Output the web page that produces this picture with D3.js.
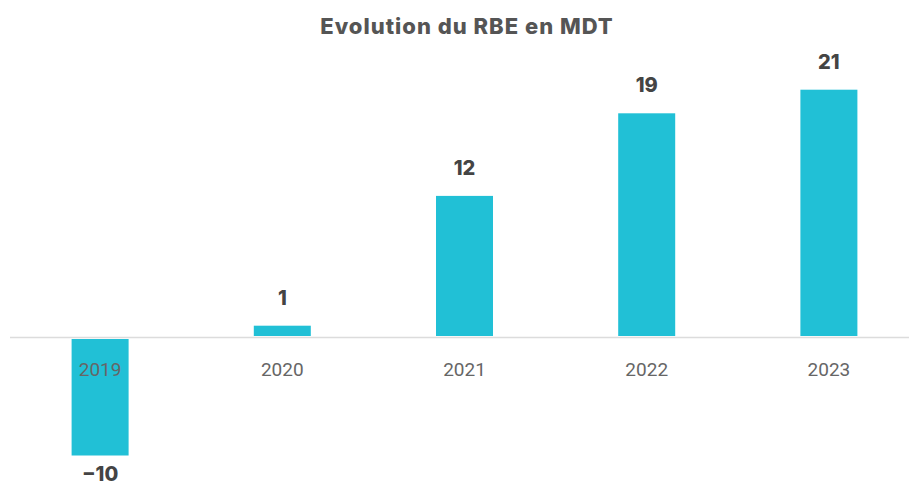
<!DOCTYPE html>
<html>
<head>
<meta charset="utf-8">
<script src="https://cdn.jsdelivr.net/npm/d3@7"></script>
<style>
  html, body { margin: 0; padding: 0; background: #fff; }
  svg { display: block; }
</style>
</head>
<body>
<svg id="chart" width="909" height="484"></svg>
<script>
// RBE per year, in millions of dinars
const years = ["2019", "2020", "2021", "2022", "2023"];
const rbe = [-10, 1, 12, 19, 21];
const chartTitle = "Evolution du RBE en MDT";

const W = 909, H = 484;
const svg = d3.select("#chart");

const x = d3.scaleBand().domain(years).range([9, 920]).padding(0);
const barW = 57;

const y = d3.scaleLinear().domain([-10, 21]).range([455.5, 89.7]);

const boldFont = "Inter, 'Open Sans', sans-serif";

// title
svg.append("text")
  .attr("x", 467)
  .attr("y", 34)
  .attr("text-anchor", "middle")
  .attr("font-family", "Inter, sans-serif")
  .attr("font-weight", 800)
  .attr("font-size", 22)
  .attr("letter-spacing", 1)
  .attr("fill", "#555")
  .text(chartTitle);

const data = years.map((yr, i) => ({ year: yr, value: rbe[i] }));

// bars
svg.append("g").selectAll("rect")
  .data(data)
  .join("rect")
  .attr("x", d => x(d.year) + x.bandwidth() / 2 - barW / 2)
  .attr("width", barW)
  .attr("y", d => d.value >= 0 ? y(d.value) : y(0) + 1.5)
  .attr("height", d => d.value >= 0 ? y(0) - 1.5 - y(d.value) : y(d.value) - y(0) - 1.5)
  .attr("fill", "#21C0D6");

// zero line
svg.append("line")
  .attr("x1", 10).attr("x2", W)
  .attr("y1", y(0)).attr("y2", y(0))
  .attr("stroke", "#dcdcdc")
  .attr("stroke-width", 1.5);

// category labels along the zero line
const axis = d3.axisBottom(x).tickSize(0).tickPadding(0);
const gAxis = svg.append("g")
  .attr("transform", `translate(0,${y(0)})`)
  .call(axis);
gAxis.select(".domain").remove();
gAxis.selectAll("text")
  .attr("y", 38)
  .attr("dy", null)
  .attr("font-family", "Roboto, sans-serif")
  .attr("font-size", 19)
  .attr("fill", "#666");

// value labels
svg.append("g").selectAll("text")
  .data(data)
  .join("text")
  .attr("x", d => x(d.year) + x.bandwidth() / 2)
  .attr("y", d => d.value >= 0 ? y(d.value) - 21 : y(d.value) + 25)
  .attr("text-anchor", "middle")
  .attr("font-family", boldFont)
  .attr("font-weight", 800)
  .attr("font-size", 20)
  .attr("fill", "#444")
  .text(d => d.value < 0 ? "\u2212" + Math.abs(d.value) : d.value);
</script>
</body>
</html>
